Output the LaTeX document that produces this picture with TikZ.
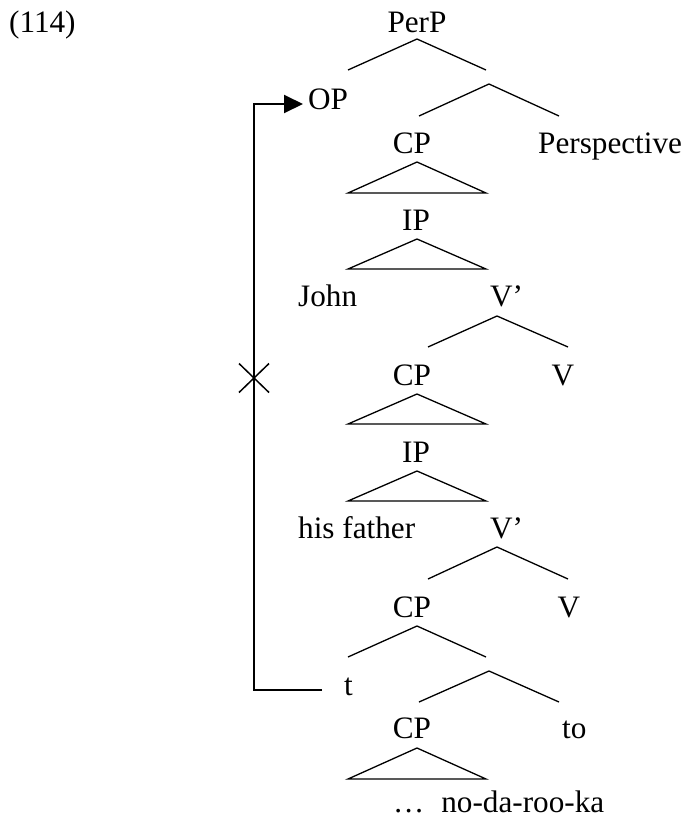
\documentclass[tikz,border=0pt]{standalone}
\usepackage{fontspec}
\setmainfont{Liberation Serif}
\usetikzlibrary{arrows.meta,calc}
\begin{document}
\begin{tikzpicture}[x=1pt,y=-1pt,
  lab/.style={inner sep=0pt, anchor=base, font=\fontsize{31.2}{36}\selectfont},
  labw/.style={lab, anchor=base west},
  branch/.style={line width=1.3pt, line join=miter},
  tri/.style={branch},
  mvarrow/.style={line width=2pt, -{Triangle[length=19pt,width=18pt]}},
  cross/.style={line width=1.5pt}]
\useasboundingbox (0,0) rectangle (684,820);

% labels
\node[labw] (ex) at (9,32) {(114)};
\node[lab] (perp) at (417,32) {PerP};
\node[labw] (op) at (308,109) {OP};
\node[lab] (cp1) at (412,153) {CP};
\node[labw] (persp) at (538,153) {Perspective};
\node[lab] (ip1) at (416,230) {IP};
\node[labw] (john) at (298,306) {John};
\node[labw] (vbar1) at (490,306) {V’};
\node[lab] (cp2) at (412,385) {CP};
\node[lab] (v1) at (563,385) {V};
\node[lab] (ip2) at (416,462) {IP};
\node[labw] (hisf) at (298,538) {his father};
\node[labw] (vbar2) at (490,538) {V’};
\node[lab] (cp3) at (412,617) {CP};
\node[lab] (v2) at (569,617) {V};
\node[labw] (t) at (344,695) {t};
\node[lab] (cp4) at (412,738) {CP};
\node[labw] (to) at (562,738) {to};
\node[labw] (nodaroo) at (393,812) {…\hspace{17pt}no-da-roo-ka};

% branch coordinates
\coordinate (a1) at (417,39);  \coordinate (l1) at (348,70);  \coordinate (r1) at (486,70);
\coordinate (a2) at (489,84);  \coordinate (l2) at (419,116); \coordinate (r2) at (559,116);
\coordinate (a3) at (417,162); \coordinate (l3) at (348,193); \coordinate (r3) at (486,193);
\coordinate (a4) at (417,239); \coordinate (l4) at (348,269); \coordinate (r4) at (486,269);
\coordinate (a5) at (497,316); \coordinate (l5) at (428,347); \coordinate (r5) at (568,347);
\coordinate (a6) at (417,394); \coordinate (l6) at (348,424); \coordinate (r6) at (486,424);
\coordinate (a7) at (417,471); \coordinate (l7) at (348,501); \coordinate (r7) at (486,501);
\coordinate (a8) at (497,547); \coordinate (l8) at (428,579); \coordinate (r8) at (568,579);
\coordinate (a9) at (417,626); \coordinate (l9) at (348,657); \coordinate (r9) at (486,657);
\coordinate (a10) at (489,671); \coordinate (l10) at (419,702); \coordinate (r10) at (559,702);
\coordinate (a11) at (417,748); \coordinate (l11) at (348,779); \coordinate (r11) at (486,779);

% binary branches
\draw[branch] (l1) -- (a1) -- (r1);
\draw[branch] (l2) -- (a2) -- (r2);
\draw[branch] (l5) -- (a5) -- (r5);
\draw[branch] (l8) -- (a8) -- (r8);
\draw[branch] (l9) -- (a9) -- (r9);
\draw[branch] (l10) -- (a10) -- (r10);
% triangles
\draw[tri] (l3) -- (a3) -- (r3) -- cycle;
\draw[tri] (l4) -- (a4) -- (r4) -- cycle;
\draw[tri] (l6) -- (a6) -- (r6) -- cycle;
\draw[tri] (l7) -- (a7) -- (r7) -- cycle;
\draw[tri] (l11) -- (a11) -- (r11) -- cycle;

% movement line
\coordinate (ms) at (322,690);
\coordinate (mc1) at (254,690);
\coordinate (mc2) at (254,104);
\coordinate (me) at (303,104);
\draw[mvarrow] (ms) -- (mc1) -- (mc2) -- (me);

% cross
\coordinate (xc) at (254,378);
\draw[cross] ($(xc)+(-15,-14.5)$) -- ($(xc)+(15,14.5)$);
\draw[cross] ($(xc)+(-15,14.5)$) -- ($(xc)+(15,-14.5)$);
\end{tikzpicture}
\end{document}
